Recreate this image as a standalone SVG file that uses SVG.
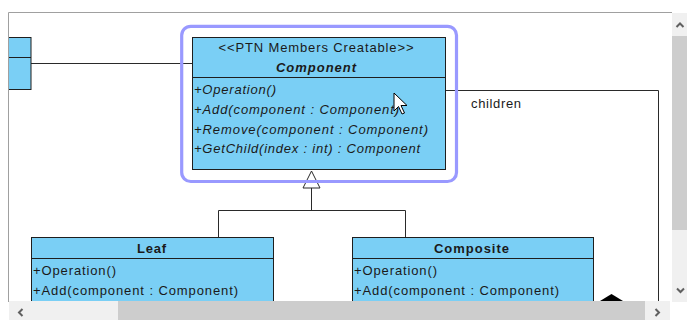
<svg xmlns="http://www.w3.org/2000/svg" width="687" height="320" viewBox="0 0 687 320">
<style>
.cls{fill:#7acff5;stroke:#1e1e1e;stroke-width:1}
.div{stroke:#1e1e1e;stroke-width:1}
.con{fill:none;stroke:#2a2a2a;stroke-width:1}
text{font-family:"Liberation Sans",Arial,sans-serif;font-size:13px;fill:#1a1a1a}
.it{font-style:italic}
.b{font-weight:bold}
.mid{text-anchor:middle}
.chev{fill:none;stroke:#606060;stroke-width:2}
</style>
<defs>
<clipPath id="canvas"><rect x="9" y="13" width="663" height="288"/></clipPath>
</defs>
<rect x="0" y="0" width="687" height="320" fill="#ffffff"/>
<g clip-path="url(#canvas)">
<g id="connectors">
<line class="con" x1="31" y1="63.5" x2="192" y2="63.5"/>
<polyline class="con" points="446,90.5 658.5,90.5 658.5,320"/>
<text x="471" y="108" textLength="50" lengthAdjust="spacing">children</text>
<polyline class="con" points="218.5,237 218.5,210.5 405.5,210.5 405.5,237"/>
<line class="con" x1="311.5" y1="188" x2="311.5" y2="210.5"/>
<polygon points="311.5,171 303,188 320,188" fill="#ffffff" stroke="#2a2a2a" stroke-width="1"/>
<polygon points="611.5,294 623,301 611.5,308 600,301" fill="#000000"/>
</g>
<g id="node-partial">
<rect class="cls" x="0" y="37.5" width="31" height="52"/>
<line class="div" x1="0" y1="57.5" x2="31" y2="57.5"/>
</g>
<g id="node-component">
<rect class="cls" x="192.5" y="37.5" width="253" height="132"/>
<line class="div" x1="192.5" y1="77.5" x2="445.5" y2="77.5"/>
<text class="mid" x="316" y="51.5" textLength="195" lengthAdjust="spacing">&lt;&lt;PTN Members Creatable&gt;&gt;</text>
<text class="mid b it" x="316" y="71.5" textLength="80" lengthAdjust="spacing">Component</text>
<text class="it" x="194" y="94" textLength="82" lengthAdjust="spacing">+Operation()</text>
<text class="it" x="194" y="114" textLength="205" lengthAdjust="spacing">+Add(component : Component)</text>
<text class="it" x="194" y="133.5" textLength="234" lengthAdjust="spacing">+Remove(component : Component)</text>
<text class="it" x="194" y="153" textLength="226" lengthAdjust="spacing">+GetChild(index : int) : Component</text>
</g>
<g id="node-leaf">
<rect class="cls" x="31.5" y="237.5" width="242" height="80"/>
<line class="div" x1="31.5" y1="258.5" x2="273.5" y2="258.5"/>
<text class="mid b" x="151.5" y="252.5" textLength="29" lengthAdjust="spacing">Leaf</text>
<text x="33" y="275" textLength="83" lengthAdjust="spacing">+Operation()</text>
<text x="33" y="295" textLength="205" lengthAdjust="spacing">+Add(component : Component)</text>
</g>
<g id="node-composite">
<rect class="cls" x="352.5" y="237.5" width="241" height="80"/>
<line class="div" x1="352.5" y1="258.5" x2="593.5" y2="258.5"/>
<text class="mid b" x="471.5" y="252.5" textLength="75" lengthAdjust="spacing">Composite</text>
<text x="354" y="275" textLength="83" lengthAdjust="spacing">+Operation()</text>
<text x="354" y="295" textLength="205" lengthAdjust="spacing">+Add(component : Component)</text>
</g>
<g id="selection">
<rect x="181.7" y="26.3" width="274.8" height="155.2" rx="9" fill="none" stroke="#9999ff" stroke-width="3.2"/>
</g>
<g id="cursor">
<polygon points="394,93 394,111 398.5,106.5 402,114 404.5,113 401,105.5 407,105.5" fill="#ffffff" stroke="#000000" stroke-width="1" stroke-linejoin="round"/>
</g>
</g>
<g id="frame">
<line x1="8.5" y1="12.5" x2="672" y2="12.5" stroke="#a0a0a0" stroke-width="1"/>
<line x1="8.5" y1="12.5" x2="8.5" y2="302" stroke="#a0a0a0" stroke-width="1"/>
</g>
<g id="vscroll">
<rect x="672" y="13" width="15" height="289" fill="#f0f0f0"/>
<rect x="672" y="36" width="15" height="194" fill="#cdcdcd"/>
<polyline class="chev" points="676.5,27 680,23.5 683.5,27"/>
<polyline class="chev" points="677,288.5 680.5,292 684,288.5"/>
</g>
<g id="hscroll">
<rect x="9" y="301" width="661" height="19" fill="#f0f0f0"/>
<rect x="118" y="301" width="527" height="19" fill="#cdcdcd"/>
<polyline class="chev" points="22.5,309 19,312.5 22.5,316"/>
<polyline class="chev" points="655.5,309 659,312.5 655.5,316"/>
</g>
</svg>
